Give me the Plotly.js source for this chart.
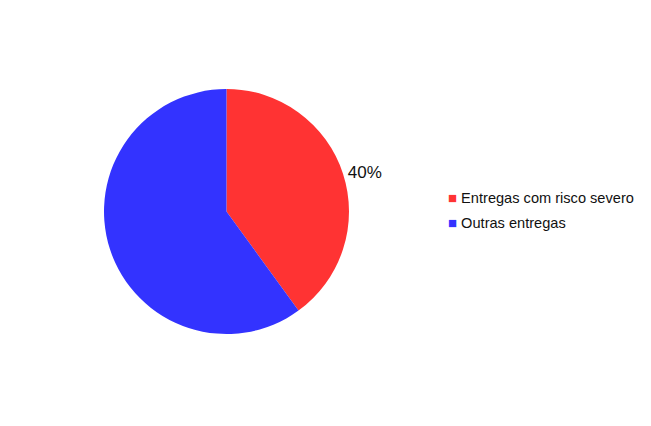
<!DOCTYPE html>
<html>
<head>
<meta charset="utf-8">
<script src="https://cdn.plot.ly/plotly-3.0.1.min.js"></script>
<style>html,body{margin:0;padding:0;background:#fff;}#chart{width:651px;height:426px;}</style>
</head>
<body>
<div id="chart"></div>
<script>
const labels = ['Entregas com risco severo', 'Outras entregas'];
const values = [40, 60];
const colors = ['#FF3333', '#3333FF'];
const shownText = ['40%', ''];

const W = 651, H = 426;
const trace = {
  type: 'pie',
  labels: labels,
  values: values,
  text: shownText,
  textinfo: 'text',
  textposition: 'outside',
  sort: false,
  direction: 'clockwise',
  rotation: 0,
  marker: {colors: colors, line: {width: 0}},
  outsidetextfont: {family: 'Liberation Sans, Arial, sans-serif', size: 17, color: '#111'},
  domain: {x: [104 / W, 349 / W], y: [1 - 334 / H, 1 - 89 / H]},
  hoverinfo: 'label+percent',
  showlegend: false
};

const annotations = labels.map((lab, i) => ({
  xref: 'paper', yref: 'paper',
  x: 446 / W, y: 1 - (197 + i * 25) / H,
  xanchor: 'left', yanchor: 'middle',
  showarrow: false,
  align: 'left',
  text: '<span style="color:' + colors[i] + ';font-size:15px">■</span> ' + lab,
  font: {family: 'Liberation Sans, Arial, sans-serif', size: 14.6, color: '#111'}
}));

const layout = {
  width: W, height: H,
  margin: {l: 0, r: 0, t: 0, b: 0},
  paper_bgcolor: '#ffffff',
  plot_bgcolor: '#ffffff',
  showlegend: false,
  annotations: annotations
};

Plotly.newPlot('chart', [trace], layout, {displayModeBar: false, staticPlot: true});
</script>
</body>
</html>
